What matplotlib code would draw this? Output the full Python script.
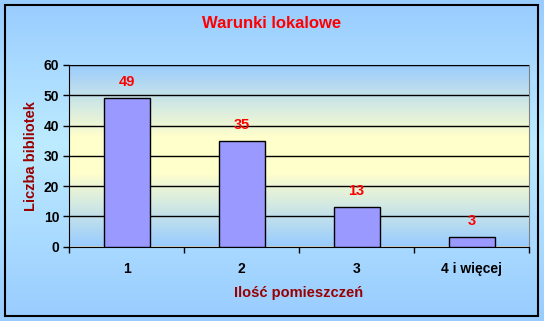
import numpy as np
import matplotlib.pyplot as plt
from matplotlib.colors import LinearSegmentedColormap
from matplotlib.patches import Rectangle

categories = ['1', '2', '3', '4 i więcej']
values = [49, 35, 13, 3]
y_ticks = [0, 10, 20, 30, 40, 50, 60]

plt.rcParams['font.family'] = ['Liberation Sans', 'DejaVu Sans']
plt.rcParams['font.weight'] = 'bold'

fig = plt.figure(figsize=(5.44, 3.21), dpi=100)

# Figure background gradient
bg = fig.add_axes([0, 0, 1, 1], zorder=-10)
bg_cmap = LinearSegmentedColormap.from_list(
    'bg', [(0, '#99CCFF'), (0.45, '#BDEBFF'), (1, '#99CCFF')])
bg.imshow(np.linspace(0, 1, 256).reshape(-1, 1), aspect='auto', cmap=bg_cmap,
          extent=[0, 1, 0, 1])
bg.set_xlim(0, 1)
bg.set_ylim(0, 1)
bg.axis('off')
bg.add_patch(Rectangle((5 / 544, 5 / 321), 533 / 544, 311 / 321, fill=False,
                       edgecolor='black', linewidth=1.5, transform=bg.transAxes))

ax = fig.add_axes([69 / 544, (321 - 246.5) / 321, 460 / 544, 181.5 / 321])

# Plot area gradient: blue - yellow - blue
pa_cmap = LinearSegmentedColormap.from_list(
    'pa', [(0, '#99CCFF'), (0.4, '#FFFFCC'), (0.6, '#FFFFCC'), (1, '#99CCFF')])
ax.imshow(np.linspace(0, 1, 256).reshape(-1, 1), aspect='auto', cmap=pa_cmap,
          extent=[-0.5, 3.5, 0, 60], zorder=0)

x = np.arange(len(categories))
ax.bar(x, values, width=0.4, color='#9999FF', edgecolor='black', linewidth=1, zorder=3)

for xi, v in zip(x, values):
    ax.text(xi, v + 3, str(v), ha='center', va='bottom', color='red',
            fontsize=10.5, fontweight='bold', zorder=4)

ax.set_xlim(-0.5, 3.5)
ax.set_ylim(0, 60)
ax.set_yticks(y_ticks)
ax.yaxis.grid(True, color='black', linewidth=1)
ax.set_axisbelow(False)
for line in ax.get_ygridlines():
    line.set_zorder(1)

ax.set_xticks(x)
ax.set_xticklabels(categories, fontsize=10, fontweight='bold')
ax.set_xticks(np.arange(-0.5, 4, 1), minor=True)
ax.tick_params(axis='x', which='major', length=0, pad=11)
ax.tick_params(axis='x', which='minor', length=4, width=1, direction='out')
ax.tick_params(axis='y', length=4, width=1, labelsize=10, pad=3)
for lab in ax.get_yticklabels():
    lab.set_fontweight('bold')

for side in ['top', 'right']:
    ax.spines[side].set_color('#808080')
ax.spines['left'].set_color('black')
ax.spines['bottom'].set_color('black')

ax.set_ylabel('Liczba bibliotek', color='#990000', fontsize=10.5, fontweight='bold',
              labelpad=4)
ax.set_xlabel('Ilość pomieszczeń', color='#990000', fontsize=10.5, fontweight='bold',
              labelpad=7)

fig.text(0.5, (321 - 24) / 321, 'Warunki lokalowe', color='red', fontsize=12,
         fontweight='bold', ha='center', va='center')

fig.savefig('out.png', dpi=100)
